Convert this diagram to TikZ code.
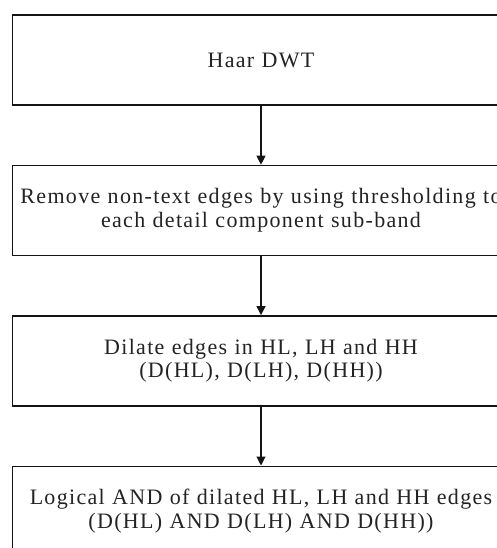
\documentclass[tikz,border=0pt]{standalone}
\usepackage{fontspec}
\setmainfont{Liberation Serif}[LetterSpace=6]
\usepackage{tikz}
\usetikzlibrary{positioning,arrows.meta}
\definecolor{dwtline}{RGB}{20,20,20}
\definecolor{dwttext}{RGB}{35,35,35}

\begin{document}
\begin{tikzpicture}[x=1pt,y=1pt,
    blocco/.style={draw=dwtline, line width=1.4pt, minimum width=497pt, minimum height=90pt,
        text width=494pt, align=center, text=dwttext, inner sep=0pt,
        font=\fontsize{22}{23.5}\selectfont},
    freccia/.style={-{Triangle[width=9pt,length=9pt]}, line width=1.1pt, draw=dwtline}]
    \useasboundingbox (0,0) rectangle (497,-548);
    \clip (0,0) rectangle (497,-548);

    % Blocchi
    \node[blocco] (haar) at (261,-60) {Haar DWT};
    \node[blocco, below=59pt of haar] (soglia) {Remove non-text edges by using thresholding to\\ each detail component sub-band};
    \node[blocco, below=59pt of soglia] (dilata) {Dilate edges in HL, LH and HH\\ (D(HL), D(LH), D(HH))};
    \node[blocco, below=59pt of dilata] (andlog) {Logical AND of dilated HL, LH and HH edges\\ (D(HL) AND D(LH) AND D(HH))};

    % Frecce
    \draw[freccia] (haar) -- (soglia);
    \draw[freccia] (soglia) -- (dilata);
    \draw[freccia] (dilata) -- (andlog);
\end{tikzpicture}
\end{document}
